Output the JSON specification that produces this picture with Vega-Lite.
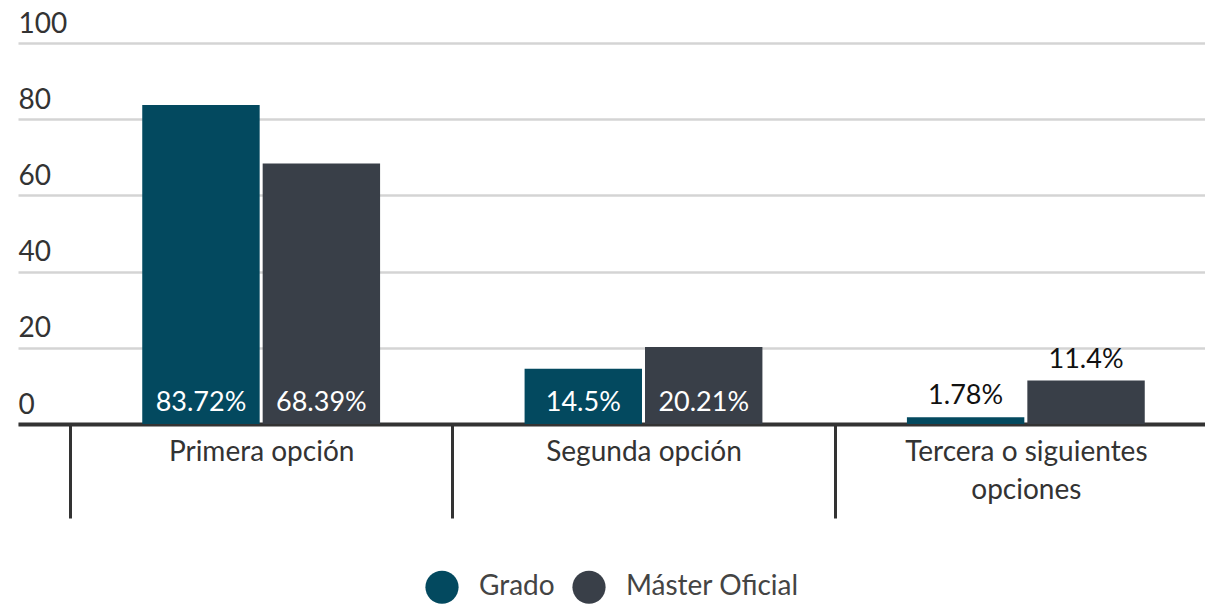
{
  "$schema": "https://vega.github.io/schema/vega-lite/v6.json",
  "width": 1187,
  "height": 381,
  "autosize": {"type": "none"},
  "padding": {"left": 18, "top": 43, "right": 0, "bottom": 180},
  "background": "white",
  "config": {"font": "Lato", "view": {"stroke": null}},
  "data": {
    "values": [
      {"opcion": "Primera opción", "tipo": "Grado", "valor": 83.72, "label": "83.72%"},
      {"opcion": "Primera opción", "tipo": "Máster Oficial", "valor": 68.39, "label": "68.39%"},
      {"opcion": "Segunda opción", "tipo": "Grado", "valor": 14.5, "label": "14.5%"},
      {"opcion": "Segunda opción", "tipo": "Máster Oficial", "valor": 20.21, "label": "20.21%"},
      {"opcion": "Tercera o siguientes opciones", "tipo": "Grado", "valor": 1.78, "label": "1.78%"},
      {"opcion": "Tercera o siguientes opciones", "tipo": "Máster Oficial", "valor": 11.4, "label": "11.4%"}
    ]
  },
  "encoding": {
    "x": {
      "field": "opcion",
      "type": "nominal",
      "sort": ["Primera opción", "Segunda opción", "Tercera o siguientes opciones"],
      "scale": {"range": [0, 1251], "paddingInner": 0, "paddingOuter": 0.136},
      "axis": {
        "title": null,
        "orient": "bottom",
        "grid": false,
        "domainColor": "#333333",
        "domainWidth": 4,
        "tickBand": "extent",
        "tickColor": "#333333",
        "tickWidth": 3,
        "tickSize": 94,
        "labelPadding": -80,
        "labelFontSize": 28,
        "labelColor": "#333333",
        "labelAngle": 0,
        "labelBaseline": "top",
        "labelLineHeight": 38,
        "labelLimit": 0,
        "labelExpr": "datum.label == 'Tercera o siguientes opciones' ? ['Tercera o siguientes', 'opciones'] : datum.label"
      }
    },
    "xOffset": {
      "field": "tipo",
      "type": "nominal",
      "sort": ["Grado", "Máster Oficial"],
      "scale": {"paddingInner": 0.025, "paddingOuter": 0.6}
    }
  },
  "layer": [
    {
      "mark": {"type": "bar"},
      "encoding": {
        "y": {
          "field": "valor",
          "type": "quantitative",
          "scale": {"domain": [0, 100]},
          "axis": {
            "title": null,
            "values": [0, 20, 40, 60, 80, 100],
            "domain": false,
            "ticks": false,
            "grid": true,
            "gridColor": "#d4d4d4",
            "gridWidth": 2.5,
            "labelAlign": "left",
            "labelBaseline": "alphabetic",
            "labelPadding": 0,
            "labelOffset": -11,
            "labelFontSize": 28,
            "labelColor": "#333333"
          }
        },
        "color": {
          "field": "tipo",
          "type": "nominal",
          "sort": ["Grado", "Máster Oficial"],
          "scale": {"range": ["#03495f", "#393f48"]},
          "legend": {
            "title": null,
            "orient": "none",
            "legendX": 407,
            "legendY": 527,
            "direction": "horizontal",
            "symbolType": "circle",
            "symbolSize": 1100,
            "symbolStrokeWidth": 0,
            "symbolOpacity": 1,
            "labelFontSize": 28,
            "labelColor": "#444444",
            "labelOffset": 20,
            "labelLimit": 0,
            "columnPadding": 17
          }
        }
      }
    },
    {
      "transform": [{"filter": "datum.valor >= 13"}],
      "mark": {"type": "text", "baseline": "alphabetic", "dy": -13, "color": "white", "fontSize": 27},
      "encoding": {
        "y": {"datum": 0, "type": "quantitative"},
        "text": {"field": "label"}
      }
    },
    {
      "transform": [{"filter": "datum.valor < 13"}],
      "mark": {"type": "text", "baseline": "alphabetic", "dy": -13, "color": "#111111", "fontSize": 27},
      "encoding": {
        "y": {"field": "valor", "type": "quantitative"},
        "text": {"field": "label"}
      }
    }
  ]
}
